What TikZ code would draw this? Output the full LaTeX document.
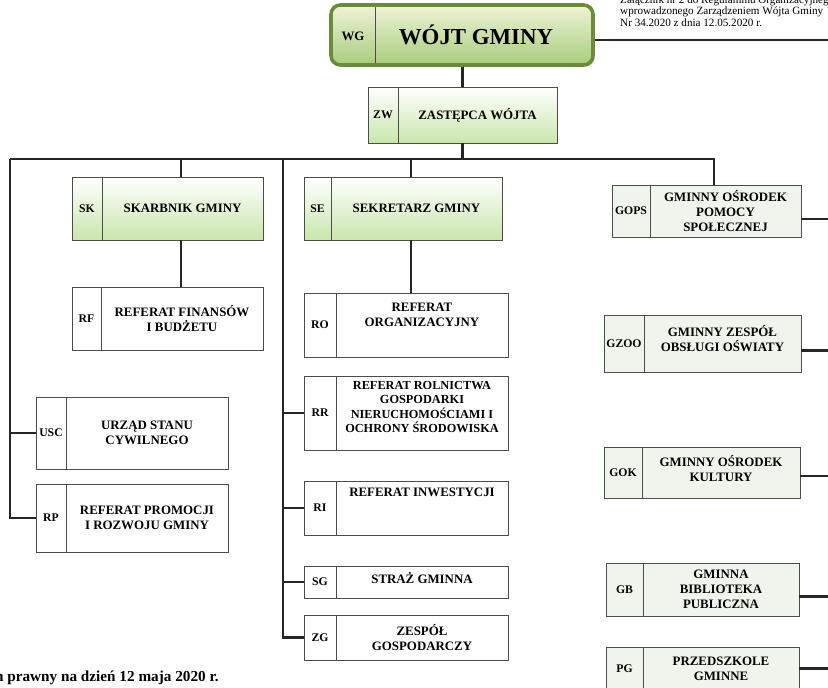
\documentclass[tikz,border=0pt]{standalone}
\usepackage{fontspec}
\setmainfont{Liberation Serif}
\usetikzlibrary{fit,shadows}

\definecolor{ramkaWG}{HTML}{6A8A3C}
\definecolor{zielenWG}{HTML}{A8CC7C}
\definecolor{kremWG}{HTML}{EEF3D6}
\definecolor{zielenJasna}{HTML}{C9E6AC}
\definecolor{bladyZiel}{HTML}{EFF5EC}

\tikzset{
  linia/.style={line width=2pt, black!85},
  kreska/.style={draw=black!70, line width=0.7pt},
  ramka/.style={draw=black!70, line width=0.7pt, inner sep=0pt, fill=white},
  zielona/.style={ramka/.append style={top color=white, bottom color=zielenJasna}},
  blada/.style={ramka/.append style={fill=bladyZiel}},
  kod/.style={font=\fontsize{10}{12}\selectfont\bfseries, inner sep=0pt},
  opis/.style={font=\fontsize{11}{12.8}\selectfont\bfseries, align=center, inner sep=0pt},
  wyzej/.style={opis/.append style={yshift=#1}},
  wojt/.style={draw=ramkaWG, line width=3pt, rounded corners=8pt, inner sep=0pt,
    top color=kremWG, bottom color=zielenWG,
    drop shadow={opacity=0.35, shadow xshift=1.5pt, shadow yshift=-1.5pt}},
  uwaga/.style={font=\fontsize{9.5}{10}\selectfont, anchor=base west, inner sep=0pt}
}

% jednostka: [opcje]{nazwa}{x1}{y1}{x2}{y2}{podzial}{kod}{opis}
\newcommand{\jednostka}[9][]{%
  \begin{scope}[#1]
    \node[ramka, fit={(#3,#4) (#5,#6)}] (#2) {};
    \draw[kreska] (#7,#4) -- (#7,#6);
    \node[kod] (#2-kod) at ({(#3+#7)/2},{(#4+#6)/2}) {#8};
    \node[opis] (#2-opis) at ({(#7+#5)/2},{(#4+#6)/2}) {#9};
  \end{scope}}

\begin{document}
\begin{tikzpicture}[x=0.03cm, y=-0.03cm]
  \useasboundingbox (0,0) rectangle (828,687);
  \clip (0,0) rectangle (828,687);

  % wojt
  \node[wojt, fit={(331,5) (593,65)}] (wg) {};
  \draw[kreska] (375,7) -- (375,63);
  \node[font=\fontsize{11}{13}\selectfont\bfseries] (wg-kod) at (353,36) {WG};
  \node[font=\fontsize{19.5}{22}\selectfont\bfseries] (wg-opis) at (476,35) {WÓJT GMINY};

  % notka
  \node[uwaga] (uwaga-1) at (620,3) {Załącznik nr 2 do Regulaminu Organizacyjnego};
  \node[uwaga] (uwaga-2) at (620,14.5) {wprowadzonego Zarządzeniem Wójta Gminy};
  \node[uwaga] (uwaga-3) at (620,26) {Nr 34.2020 z dnia 12.05.2020 r.};

  \jednostka[zielona]{zw}{368}{87}{557}{143}{398}{ZW}{ZASTĘPCA WÓJTA}

  % kolumna 1
  \jednostka[zielona]{sk}{72}{177}{263}{240}{102}{SK}{SKARBNIK GMINY}
  \jednostka{rf}{72}{287}{263}{350}{101}{RF}{REFERAT FINANSÓW\\I BUDŻETU}
  \jednostka{usc}{36}{397}{228}{469}{66}{USC}{URZĄD STANU\\CYWILNEGO}
  \jednostka{rp}{36}{484}{228}{552}{66}{RP}{REFERAT PROMOCJI\\I ROZWOJU GMINY}

  % kolumna 2
  \jednostka[zielona]{se}{304}{177}{502}{240}{331}{SE}{SEKRETARZ GMINY}
  \jednostka[wyzej=9pt]{ro}{304}{293}{508}{357}{336}{RO}{REFERAT\\ORGANIZACYJNY}
  \jednostka[wyzej=5pt, opis/.append style={font=\fontsize{10.5}{12.2}\selectfont\bfseries}]{rr}{304}{376}{508}{450}{336}{RR}{REFERAT ROLNICTWA\\GOSPODARKI\\NIERUCHOMOŚCIAMI I\\OCHRONY ŚRODOWISKA}
  \jednostka[wyzej=13pt]{ri}{304}{481}{508}{535}{336}{RI}{REFERAT INWESTYCJI}
  \jednostka[wyzej=3pt]{sg}{304}{566}{508}{598}{336}{SG}{STRAŻ GMINNA}
  \jednostka{zg}{304}{615}{508}{660}{336}{ZG}{ZESPÓŁ\\GOSPODARCZY}

  % kolumna 3
  \jednostka[blada]{gops}{612}{185}{801}{237}{650}{GOPS}{GMINNY OŚRODEK\\POMOCY\\SPOŁECZNEJ}
  \jednostka[blada, wyzej=4pt]{gzoo}{604}{315}{801}{372}{644}{GZOO}{GMINNY ZESPÓŁ\\OBSŁUGI OŚWIATY}
  \jednostka[blada, wyzej=3pt]{gok}{604}{447}{800}{498}{642}{GOK}{GMINNY OŚRODEK\\KULTURY}
  \jednostka[blada]{gb}{606}{563}{799}{616}{643}{GB}{GMINNA\\BIBLIOTEKA\\PUBLICZNA}
  \jednostka[blada]{pg}{606}{647}{799}{690}{643}{PG}{PRZEDSZKOLE\\GMINNE}

  % stopka
  \node[font=\fontsize{13}{15}\selectfont\bfseries, anchor=base east, inner sep=0pt]
    (stan) at (219,681) {Stan prawny na dzień 12 maja 2020 r.};

  % polaczenia
  \coordinate (szyna-l) at (10,159);
  \coordinate (szyna-p) at (714,159);
  \coordinate (pion-sk) at (181,159);
  \coordinate (pion-2) at (283,159);
  \coordinate (pion-se) at (411,159);
  \coordinate (prawa) at (840,0);

  \draw[linia] ([yshift=-4.5pt]wg.east) -- ([yshift=-4.5pt]wg.east -| prawa);
  \draw[linia] (zw.north |- wg.south) -- (zw.north);
  \draw[linia] (zw.south) -- (zw.south |- szyna-l);
  \draw[linia] (szyna-l) -- (szyna-p) -- (szyna-p |- gops.north);
  \draw[linia] (szyna-l) |- (usc.west);
  \draw[linia] (szyna-l) |- (rp.west);
  \draw[linia] (pion-sk) -- (pion-sk |- sk.north);
  \draw[linia] (pion-sk |- sk.south) -- (pion-sk |- rf.north);
  \draw[linia] (pion-2) |- (zg.west);
  \draw[linia] (pion-2 |- rr.west) -- (rr.west);
  \draw[linia] (pion-2 |- ri.west) -- (ri.west);
  \draw[linia] (pion-2 |- sg.west) -- (sg.west);
  \draw[linia] (pion-se) -- (pion-se |- se.north);
  \draw[linia] (pion-se |- se.south) -- (pion-se |- ro.north);

  \draw[linia] ([yshift=-7pt]gops.east) -- ([yshift=-7pt]gops.east -| prawa);
  \draw[linia] ([yshift=-6pt]gzoo.east) -- ([yshift=-6pt]gzoo.east -| prawa);
  \draw[linia] ([yshift=-3pt]gok.east) -- ([yshift=-3pt]gok.east -| prawa);
  \draw[linia] ([yshift=-6pt]gb.east) -- ([yshift=-6pt]gb.east -| prawa);
  \draw[linia] (pg.east) -- (pg.east -| prawa);
\end{tikzpicture}
\end{document}
